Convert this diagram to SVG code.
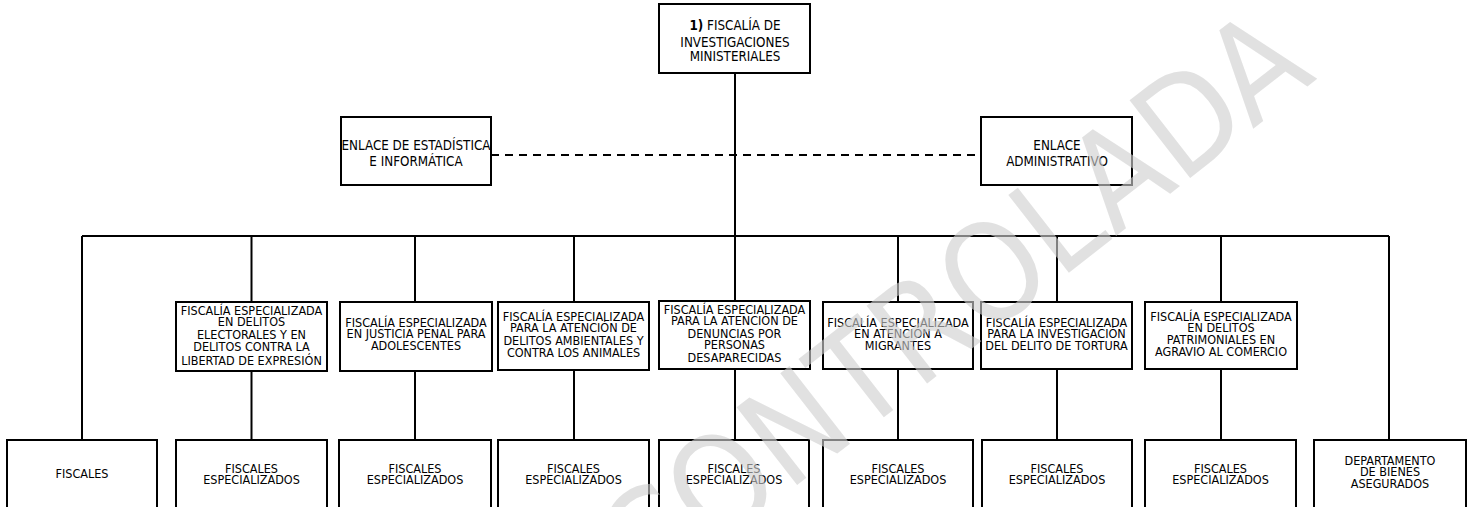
<svg xmlns="http://www.w3.org/2000/svg" width="1471" height="507" viewBox="0 0 1471 507">
<style>
.box{fill:#fff;stroke:#000;stroke-width:2}
.ln{stroke:#000;stroke-width:2;fill:none}
.dash{stroke:#000;stroke-width:2;fill:none;stroke-dasharray:8 6}
text{font-family:"DejaVu Sans Condensed","DejaVu Sans","Liberation Sans",sans-serif;font-size:12.5px;fill:#000;text-anchor:middle}
.big{font-size:13.3px}
.wm{font-family:"DejaVu Sans Condensed","DejaVu Sans","Liberation Sans",sans-serif;font-size:135px;fill:#cfcfcf;fill-opacity:0.62;text-anchor:end}
</style>
<rect width="1471" height="507" fill="#fff"/>
<g id="connectors">
<line class="ln" x1="735" y1="73" x2="735" y2="302"/>
<line class="dash" x1="491" y1="155" x2="981" y2="155"/>
<line class="ln" x1="82" y1="236" x2="1389" y2="236"/>
<line class="ln" x1="82" y1="236" x2="82" y2="440"/>
<line class="ln" x1="1389" y1="236" x2="1389" y2="440"/>
<line class="ln" x1="251.5" y1="236" x2="251.5" y2="440"/>
<line class="ln" x1="415" y1="236" x2="415" y2="440"/>
<line class="ln" x1="574" y1="236" x2="574" y2="440"/>
<line class="ln" x1="735" y1="236" x2="735" y2="440"/>
<line class="ln" x1="898" y1="236" x2="898" y2="440"/>
<line class="ln" x1="1057" y1="236" x2="1057" y2="440"/>
<line class="ln" x1="1221" y1="236" x2="1221" y2="440"/>
</g>
<g id="n-fiscalia">
<rect class="box" x="659" y="4" width="151" height="69"/>
<text class="big" x="735" y="30"><tspan font-weight="bold">1)</tspan> FISCALÍA DE</text>
<text class="big" x="735" y="46.5">INVESTIGACIONES</text>
<text class="big" x="735" y="61">MINISTERIALES</text>
</g>
<g id="n-enlace-est">
<rect class="box" x="341" y="117" width="150" height="68"/>
<text class="big" x="416" y="149.5">ENLACE DE ESTADÍSTICA</text>
<text class="big" x="416" y="166">E INFORMÁTICA</text>
</g>
<g id="n-enlace-adm">
<rect class="box" x="981" y="117" width="151" height="68"/>
<text class="big" x="1057" y="149.5">ENLACE</text>
<text class="big" x="1057" y="166">ADMINISTRATIVO</text>
</g>
<g id="n-m1">
<rect class="box" x="176" y="302" width="151" height="69"/>
<text x="251.5" y="314.5">FISCALÍA ESPECIALIZADA</text>
<text x="251.5" y="326">EN DELITOS</text>
<text x="251.5" y="338.5">ELECTORALES Y EN</text>
<text x="251.5" y="350.5">DELITOS CONTRA LA</text>
<text x="251.5" y="364.5">LIBERTAD DE EXPRESIÓN</text>
</g>
<g id="n-m2">
<rect class="box" x="340" y="302" width="152" height="69"/>
<text x="416" y="326.5">FISCALÍA ESPECIALIZADA</text>
<text x="416" y="337.5">EN JUSTICIA PENAL PARA</text>
<text x="416" y="349.5">ADOLESCENTES</text>
</g>
<g id="n-m3">
<rect class="box" x="498" y="302" width="151" height="68"/>
<text x="573.5" y="320.5">FISCALÍA ESPECIALIZADA</text>
<text x="573.5" y="332">PARA LA ATENCIÓN DE</text>
<text x="573.5" y="344.5">DELITOS AMBIENTALES Y</text>
<text x="573.5" y="356.5">CONTRA LOS ANIMALES</text>
</g>
<g id="n-m4">
<rect class="box" x="659" y="301" width="151" height="68"/>
<text x="734.5" y="313.5">FISCALÍA ESPECIALIZADA</text>
<text x="734.5" y="324.5">PARA LA ATENCIÓN DE</text>
<text x="734.5" y="337.5">DENUNCIAS POR</text>
<text x="734.5" y="349">PERSONAS</text>
<text x="734.5" y="361.5">DESAPARECIDAS</text>
</g>
<g id="n-m5">
<rect class="box" x="823" y="302" width="150" height="67"/>
<text x="898" y="326.5">FISCALÍA ESPECIALIZADA</text>
<text x="898" y="337.5">EN ATENCIÓN A</text>
<text x="898" y="349.5">MIGRANTES</text>
</g>
<g id="n-m6">
<rect class="box" x="981" y="302" width="151" height="67"/>
<text x="1056.5" y="326.5">FISCALÍA ESPECIALIZADA</text>
<text x="1056.5" y="337.5">PARA LA INVESTIGACIÓN</text>
<text x="1056.5" y="349.5">DEL DELITO DE TORTURA</text>
</g>
<g id="n-m7">
<rect class="box" x="1145" y="302" width="152" height="67"/>
<text x="1221" y="320.5">FISCALÍA ESPECIALIZADA</text>
<text x="1221" y="331.5">EN DELITOS</text>
<text x="1221" y="343.5">PATRIMONIALES EN</text>
<text x="1221" y="355.5">AGRAVIO AL COMERCIO</text>
</g>
<g id="n-b0">
<rect class="box" x="7" y="440" width="150" height="80"/>
<text x="82" y="477.5">FISCALES</text>
</g>
<g id="n-b1">
<rect class="box" x="176" y="440" width="151" height="80"/>
<text x="251.5" y="472.5">FISCALES</text>
<text x="251.5" y="483.5">ESPECIALIZADOS</text>
</g>
<g id="n-b2">
<rect class="box" x="339" y="440" width="152" height="80"/>
<text x="415" y="472.5">FISCALES</text>
<text x="415" y="483.5">ESPECIALIZADOS</text>
</g>
<g id="n-b3">
<rect class="box" x="498" y="440" width="151" height="80"/>
<text x="573.5" y="472.5">FISCALES</text>
<text x="573.5" y="483.5">ESPECIALIZADOS</text>
</g>
<g id="n-b4">
<rect class="box" x="659" y="440" width="150" height="80"/>
<text x="734" y="472.5">FISCALES</text>
<text x="734" y="483.5">ESPECIALIZADOS</text>
</g>
<g id="n-b5">
<rect class="box" x="823" y="440" width="150" height="80"/>
<text x="898" y="472.5">FISCALES</text>
<text x="898" y="483.5">ESPECIALIZADOS</text>
</g>
<g id="n-b6">
<rect class="box" x="982" y="440" width="150" height="80"/>
<text x="1057" y="472.5">FISCALES</text>
<text x="1057" y="483.5">ESPECIALIZADOS</text>
</g>
<g id="n-b7">
<rect class="box" x="1145" y="440" width="151" height="80"/>
<text x="1220.5" y="472.5">FISCALES</text>
<text x="1220.5" y="483.5">ESPECIALIZADOS</text>
</g>
<g id="n-b8">
<rect class="box" x="1314" y="440" width="152" height="80"/>
<text x="1390" y="464.5">DEPARTAMENTO</text>
<text x="1390" y="476">DE BIENES</text>
<text x="1390" y="487.5">ASEGURADOS</text>
</g>
<g id="watermark">
<text class="wm" transform="translate(1318,78) rotate(-38)">CONTROLADA</text>
</g>
</svg>
